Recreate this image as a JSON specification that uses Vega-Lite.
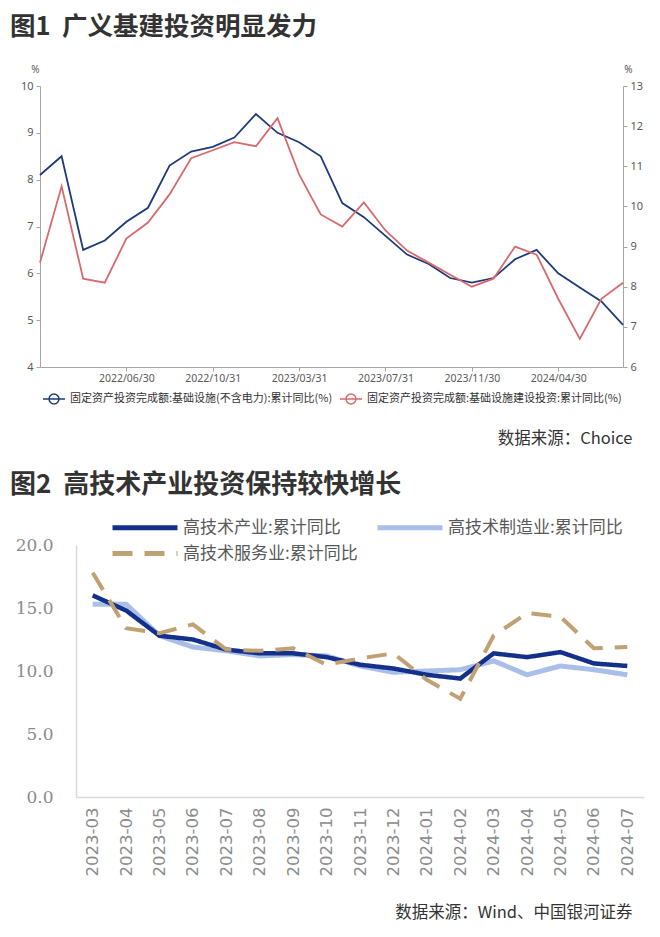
{
  "$schema": "https://vega.github.io/schema/vega-lite/v6.json",
  "background": "white",
  "padding": {"left": 10, "top": 14, "right": 5, "bottom": 5},
  "spacing": 25,
  "columns": 1,
  "align": "none",
  "config": {"view": {"stroke": null}, "font": "Noto Sans CJK SC"},
  "resolve": {"scale": {"color": "independent", "strokeDash": "independent", "x": "independent", "y": "independent"}, "legend": {"color": "independent", "strokeDash": "independent"}},
  "datasets": {
    "infra": [
      {"d": "2022/02/28", "k": "a", "s": "固定资产投资完成额:基础设施(不含电力):累计同比(%)", "v": 8.1},
      {"d": "2022/03/31", "k": "a", "s": "固定资产投资完成额:基础设施(不含电力):累计同比(%)", "v": 8.5},
      {"d": "2022/04/30", "k": "a", "s": "固定资产投资完成额:基础设施(不含电力):累计同比(%)", "v": 6.5},
      {"d": "2022/05/31", "k": "a", "s": "固定资产投资完成额:基础设施(不含电力):累计同比(%)", "v": 6.7},
      {"d": "2022/06/30", "k": "a", "s": "固定资产投资完成额:基础设施(不含电力):累计同比(%)", "v": 7.1},
      {"d": "2022/07/31", "k": "a", "s": "固定资产投资完成额:基础设施(不含电力):累计同比(%)", "v": 7.4},
      {"d": "2022/08/31", "k": "a", "s": "固定资产投资完成额:基础设施(不含电力):累计同比(%)", "v": 8.3},
      {"d": "2022/09/30", "k": "a", "s": "固定资产投资完成额:基础设施(不含电力):累计同比(%)", "v": 8.6},
      {"d": "2022/10/31", "k": "a", "s": "固定资产投资完成额:基础设施(不含电力):累计同比(%)", "v": 8.7},
      {"d": "2022/11/30", "k": "a", "s": "固定资产投资完成额:基础设施(不含电力):累计同比(%)", "v": 8.9},
      {"d": "2022/12/31", "k": "a", "s": "固定资产投资完成额:基础设施(不含电力):累计同比(%)", "v": 9.4},
      {"d": "2023/02/28", "k": "a", "s": "固定资产投资完成额:基础设施(不含电力):累计同比(%)", "v": 9.0},
      {"d": "2023/03/31", "k": "a", "s": "固定资产投资完成额:基础设施(不含电力):累计同比(%)", "v": 8.8},
      {"d": "2023/04/30", "k": "a", "s": "固定资产投资完成额:基础设施(不含电力):累计同比(%)", "v": 8.5},
      {"d": "2023/05/31", "k": "a", "s": "固定资产投资完成额:基础设施(不含电力):累计同比(%)", "v": 7.5},
      {"d": "2023/06/30", "k": "a", "s": "固定资产投资完成额:基础设施(不含电力):累计同比(%)", "v": 7.2},
      {"d": "2023/07/31", "k": "a", "s": "固定资产投资完成额:基础设施(不含电力):累计同比(%)", "v": 6.8},
      {"d": "2023/08/31", "k": "a", "s": "固定资产投资完成额:基础设施(不含电力):累计同比(%)", "v": 6.4},
      {"d": "2023/09/30", "k": "a", "s": "固定资产投资完成额:基础设施(不含电力):累计同比(%)", "v": 6.2},
      {"d": "2023/10/31", "k": "a", "s": "固定资产投资完成额:基础设施(不含电力):累计同比(%)", "v": 5.9},
      {"d": "2023/11/30", "k": "a", "s": "固定资产投资完成额:基础设施(不含电力):累计同比(%)", "v": 5.8},
      {"d": "2023/12/31", "k": "a", "s": "固定资产投资完成额:基础设施(不含电力):累计同比(%)", "v": 5.9},
      {"d": "2024/02/29", "k": "a", "s": "固定资产投资完成额:基础设施(不含电力):累计同比(%)", "v": 6.3},
      {"d": "2024/03/31", "k": "a", "s": "固定资产投资完成额:基础设施(不含电力):累计同比(%)", "v": 6.5},
      {"d": "2024/04/30", "k": "a", "s": "固定资产投资完成额:基础设施(不含电力):累计同比(%)", "v": 6.0},
      {"d": "2024/05/31", "k": "a", "s": "固定资产投资完成额:基础设施(不含电力):累计同比(%)", "v": 5.7},
      {"d": "2024/06/30", "k": "a", "s": "固定资产投资完成额:基础设施(不含电力):累计同比(%)", "v": 5.4},
      {"d": "2024/07/31", "k": "a", "s": "固定资产投资完成额:基础设施(不含电力):累计同比(%)", "v": 4.9},
      {"d": "2022/02/28", "k": "b", "s": "固定资产投资完成额:基础设施建设投资:累计同比(%)", "v": 8.6},
      {"d": "2022/03/31", "k": "b", "s": "固定资产投资完成额:基础设施建设投资:累计同比(%)", "v": 10.5},
      {"d": "2022/04/30", "k": "b", "s": "固定资产投资完成额:基础设施建设投资:累计同比(%)", "v": 8.2},
      {"d": "2022/05/31", "k": "b", "s": "固定资产投资完成额:基础设施建设投资:累计同比(%)", "v": 8.1},
      {"d": "2022/06/30", "k": "b", "s": "固定资产投资完成额:基础设施建设投资:累计同比(%)", "v": 9.2},
      {"d": "2022/07/31", "k": "b", "s": "固定资产投资完成额:基础设施建设投资:累计同比(%)", "v": 9.6},
      {"d": "2022/08/31", "k": "b", "s": "固定资产投资完成额:基础设施建设投资:累计同比(%)", "v": 10.3},
      {"d": "2022/09/30", "k": "b", "s": "固定资产投资完成额:基础设施建设投资:累计同比(%)", "v": 11.2},
      {"d": "2022/10/31", "k": "b", "s": "固定资产投资完成额:基础设施建设投资:累计同比(%)", "v": 11.4},
      {"d": "2022/11/30", "k": "b", "s": "固定资产投资完成额:基础设施建设投资:累计同比(%)", "v": 11.6},
      {"d": "2022/12/31", "k": "b", "s": "固定资产投资完成额:基础设施建设投资:累计同比(%)", "v": 11.5},
      {"d": "2023/02/28", "k": "b", "s": "固定资产投资完成额:基础设施建设投资:累计同比(%)", "v": 12.2},
      {"d": "2023/03/31", "k": "b", "s": "固定资产投资完成额:基础设施建设投资:累计同比(%)", "v": 10.8},
      {"d": "2023/04/30", "k": "b", "s": "固定资产投资完成额:基础设施建设投资:累计同比(%)", "v": 9.8},
      {"d": "2023/05/31", "k": "b", "s": "固定资产投资完成额:基础设施建设投资:累计同比(%)", "v": 9.5},
      {"d": "2023/06/30", "k": "b", "s": "固定资产投资完成额:基础设施建设投资:累计同比(%)", "v": 10.1},
      {"d": "2023/07/31", "k": "b", "s": "固定资产投资完成额:基础设施建设投资:累计同比(%)", "v": 9.4},
      {"d": "2023/08/31", "k": "b", "s": "固定资产投资完成额:基础设施建设投资:累计同比(%)", "v": 8.9},
      {"d": "2023/09/30", "k": "b", "s": "固定资产投资完成额:基础设施建设投资:累计同比(%)", "v": 8.6},
      {"d": "2023/10/31", "k": "b", "s": "固定资产投资完成额:基础设施建设投资:累计同比(%)", "v": 8.3},
      {"d": "2023/11/30", "k": "b", "s": "固定资产投资完成额:基础设施建设投资:累计同比(%)", "v": 8.0},
      {"d": "2023/12/31", "k": "b", "s": "固定资产投资完成额:基础设施建设投资:累计同比(%)", "v": 8.2},
      {"d": "2024/02/29", "k": "b", "s": "固定资产投资完成额:基础设施建设投资:累计同比(%)", "v": 9.0},
      {"d": "2024/03/31", "k": "b", "s": "固定资产投资完成额:基础设施建设投资:累计同比(%)", "v": 8.8},
      {"d": "2024/04/30", "k": "b", "s": "固定资产投资完成额:基础设施建设投资:累计同比(%)", "v": 7.7},
      {"d": "2024/05/31", "k": "b", "s": "固定资产投资完成额:基础设施建设投资:累计同比(%)", "v": 6.7},
      {"d": "2024/06/30", "k": "b", "s": "固定资产投资完成额:基础设施建设投资:累计同比(%)", "v": 7.7},
      {"d": "2024/07/31", "k": "b", "s": "固定资产投资完成额:基础设施建设投资:累计同比(%)", "v": 8.1}
    ],
    "tech": [
      {"m": "2023-03", "k": "a", "s": "高技术产业:累计同比", "v": 16.0},
      {"m": "2023-04", "k": "a", "s": "高技术产业:累计同比", "v": 14.8},
      {"m": "2023-05", "k": "a", "s": "高技术产业:累计同比", "v": 12.8},
      {"m": "2023-06", "k": "a", "s": "高技术产业:累计同比", "v": 12.5},
      {"m": "2023-07", "k": "a", "s": "高技术产业:累计同比", "v": 11.7},
      {"m": "2023-08", "k": "a", "s": "高技术产业:累计同比", "v": 11.4},
      {"m": "2023-09", "k": "a", "s": "高技术产业:累计同比", "v": 11.4},
      {"m": "2023-10", "k": "a", "s": "高技术产业:累计同比", "v": 11.1},
      {"m": "2023-11", "k": "a", "s": "高技术产业:累计同比", "v": 10.5},
      {"m": "2023-12", "k": "a", "s": "高技术产业:累计同比", "v": 10.2},
      {"m": "2024-01", "k": "a", "s": "高技术产业:累计同比", "v": 9.7},
      {"m": "2024-02", "k": "a", "s": "高技术产业:累计同比", "v": 9.4},
      {"m": "2024-03", "k": "a", "s": "高技术产业:累计同比", "v": 11.4},
      {"m": "2024-04", "k": "a", "s": "高技术产业:累计同比", "v": 11.1},
      {"m": "2024-05", "k": "a", "s": "高技术产业:累计同比", "v": 11.5},
      {"m": "2024-06", "k": "a", "s": "高技术产业:累计同比", "v": 10.6},
      {"m": "2024-07", "k": "a", "s": "高技术产业:累计同比", "v": 10.4},
      {"m": "2023-03", "k": "b", "s": "高技术制造业:累计同比", "v": 15.3},
      {"m": "2023-04", "k": "b", "s": "高技术制造业:累计同比", "v": 15.3},
      {"m": "2023-05", "k": "b", "s": "高技术制造业:累计同比", "v": 12.8},
      {"m": "2023-06", "k": "b", "s": "高技术制造业:累计同比", "v": 11.9},
      {"m": "2023-07", "k": "b", "s": "高技术制造业:累计同比", "v": 11.6},
      {"m": "2023-08", "k": "b", "s": "高技术制造业:累计同比", "v": 11.2},
      {"m": "2023-09", "k": "b", "s": "高技术制造业:累计同比", "v": 11.3},
      {"m": "2023-10", "k": "b", "s": "高技术制造业:累计同比", "v": 11.2},
      {"m": "2023-11", "k": "b", "s": "高技术制造业:累计同比", "v": 10.4},
      {"m": "2023-12", "k": "b", "s": "高技术制造业:累计同比", "v": 9.9},
      {"m": "2024-01", "k": "b", "s": "高技术制造业:累计同比", "v": 10.0},
      {"m": "2024-02", "k": "b", "s": "高技术制造业:累计同比", "v": 10.1},
      {"m": "2024-03", "k": "b", "s": "高技术制造业:累计同比", "v": 10.8},
      {"m": "2024-04", "k": "b", "s": "高技术制造业:累计同比", "v": 9.7},
      {"m": "2024-05", "k": "b", "s": "高技术制造业:累计同比", "v": 10.4},
      {"m": "2024-06", "k": "b", "s": "高技术制造业:累计同比", "v": 10.1},
      {"m": "2024-07", "k": "b", "s": "高技术制造业:累计同比", "v": 9.7},
      {"m": "2023-03", "k": "c", "s": "高技术服务业:累计同比", "v": 17.8},
      {"m": "2023-04", "k": "c", "s": "高技术服务业:累计同比", "v": 13.4},
      {"m": "2023-05", "k": "c", "s": "高技术服务业:累计同比", "v": 13.0},
      {"m": "2023-06", "k": "c", "s": "高技术服务业:累计同比", "v": 13.7},
      {"m": "2023-07", "k": "c", "s": "高技术服务业:累计同比", "v": 11.7},
      {"m": "2023-08", "k": "c", "s": "高技术服务业:累计同比", "v": 11.6},
      {"m": "2023-09", "k": "c", "s": "高技术服务业:累计同比", "v": 11.8},
      {"m": "2023-10", "k": "c", "s": "高技术服务业:累计同比", "v": 10.5},
      {"m": "2023-11", "k": "c", "s": "高技术服务业:累计同比", "v": 11.0},
      {"m": "2023-12", "k": "c", "s": "高技术服务业:累计同比", "v": 11.4},
      {"m": "2024-01", "k": "c", "s": "高技术服务业:累计同比", "v": 9.3},
      {"m": "2024-02", "k": "c", "s": "高技术服务业:累计同比", "v": 7.8},
      {"m": "2024-03", "k": "c", "s": "高技术服务业:累计同比", "v": 12.8},
      {"m": "2024-04", "k": "c", "s": "高技术服务业:累计同比", "v": 14.6},
      {"m": "2024-05", "k": "c", "s": "高技术服务业:累计同比", "v": 14.3},
      {"m": "2024-06", "k": "c", "s": "高技术服务业:累计同比", "v": 11.8},
      {"m": "2024-07", "k": "c", "s": "高技术服务业:累计同比", "v": 11.9}
    ]
  },
  "concat": [
    {
      "title": {"text": "图1\u00a0\u00a0广义基建投资明显发力", "anchor": "start", "frame": "group", "dx": -30, "offset": 24, "fontSize": 25.5, "fontWeight": "bold", "font": "Noto Sans CJK SC", "color": "#333333"},
      "width": 583,
      "height": 281,
      "data": {"name": "infra"},
      "encoding": {
        "x": {
          "field": "d", "type": "ordinal", "sort": null,
          "scale": {"type": "point", "padding": 0},
          "axis": {
            "values": ["2022/06/30", "2022/10/31", "2023/03/31", "2023/07/31", "2023/11/30", "2024/04/30"],
            "labelAngle": 0, "labelFont": "Noto Sans", "labelFontSize": 10.5, "labelColor": "#595959", "labelPadding": 2,
            "domainColor": "#a6a6a6", "tickColor": "#a6a6a6", "tickSize": 4,
            "title": "数据来源：Choice", "titleX": 592, "titleY": 71, "titleAlign": "right", "titleBaseline": "middle",
            "titleFont": "Noto Sans CJK SC", "titleFontSize": 16.5, "titleFontWeight": "normal", "titleColor": "#333333"
          }
        },
        "color": {
          "field": "s", "type": "nominal",
          "scale": {"domain": ["固定资产投资完成额:基础设施(不含电力):累计同比(%)", "固定资产投资完成额:基础设施建设投资:累计同比(%)"], "range": ["#1f3a7a", "#d66a6c"]},
          "legend": {
            "orient": "none", "legendX": 2, "legendY": 301, "direction": "horizontal", "title": null,
            "symbolType": "M-1,0H1M-0.45,0A0.45,0.45,0,1,1,0.45,0A0.45,0.45,0,1,1,-0.45,0",
            "symbolSize": 484, "symbolStrokeWidth": 1.5, "symbolFillColor": "white",
            "labelFont": "Noto Sans CJK SC", "labelFontSize": 11, "labelColor": "#333333", "labelLimit": 400,
            "labelOffset": 4, "columnPadding": 4
          }
        }
      },
      "layer": [
        {
          "transform": [{"filter": "datum.k === 'a'"}],
          "mark": {"type": "line", "strokeWidth": 1.8},
          "encoding": {
            "y": {
              "field": "v", "type": "quantitative",
              "scale": {"domain": [4, 10], "nice": false, "zero": false},
              "axis": {
                "values": [4, 5, 6, 7, 8, 9, 10], "grid": false,
                "labelFont": "Noto Sans", "labelFontSize": 11, "labelColor": "#595959", "labelPadding": 3,
                "domainColor": "#a6a6a6", "tickColor": "#a6a6a6", "tickSize": 4,
                "title": "%", "titleAngle": 0, "titleX": -5, "titleY": -12, "titleAlign": "center", "titleBaseline": "bottom",
                "titleFont": "Noto Sans", "titleFontSize": 10, "titleFontWeight": "normal", "titleColor": "#595959"
              }
            }
          }
        },
        {
          "transform": [{"filter": "datum.k === 'b'"}],
          "mark": {"type": "line", "strokeWidth": 1.8},
          "encoding": {
            "y": {
              "field": "v", "type": "quantitative",
              "scale": {"domain": [6, 13], "nice": false, "zero": false},
              "axis": {
                "orient": "right", "values": [6, 7, 8, 9, 10, 11, 12, 13], "grid": false,
                "labelFont": "Noto Sans", "labelFontSize": 11, "labelColor": "#595959", "labelPadding": 3,
                "domainColor": "#a6a6a6", "tickColor": "#a6a6a6", "tickSize": 4,
                "title": "%", "titleAngle": 0, "titleX": 5, "titleY": -12, "titleAlign": "center", "titleBaseline": "bottom",
                "titleFont": "Noto Sans", "titleFontSize": 10, "titleFontWeight": "normal", "titleColor": "#595959"
              }
            }
          }
        }
      ],
      "resolve": {"scale": {"y": "independent"}}
    },
    {
      "title": {"text": "图2\u00a0\u00a0高技术产业投资保持较快增长", "anchor": "start", "frame": "group", "dx": -30, "offset": 17, "fontSize": 26, "fontWeight": "bold", "font": "Noto Sans CJK SC", "color": "#333333"},
      "width": 604,
      "height": 252,
      "data": {"name": "tech"},
      "encoding": {
        "x": {
          "field": "m", "type": "ordinal", "sort": null,
          "scale": {"type": "point", "padding": 0.5, "range": [36, 604]},
          "axis": {
            "labelAngle": -90, "labelAlign": "right", "labelBaseline": "middle",
            "labelFont": "DejaVu Sans", "labelFontSize": 16.5, "labelColor": "#8c8c8c", "labelPadding": 10,
            "ticks": false, "domainColor": "#d9d9d9", "domainWidth": 1.5,
            "title": "数据来源：Wind、中国银河证券", "titleX": 592, "titleY": 115, "titleAlign": "right", "titleBaseline": "middle",
            "titleFont": "Noto Sans CJK SC", "titleFontSize": 16.5, "titleFontWeight": "normal", "titleColor": "#333333"
          }
        },
        "y": {
          "field": "v", "type": "quantitative",
          "scale": {"domain": [0, 20], "nice": false},
          "axis": {
            "offset": -36,
            "values": [0, 5, 10, 15, 20], "format": ".1f", "grid": false, "ticks": false,
            "domainColor": "#d9d9d9", "domainWidth": 1.5,
            "labelFont": "DejaVu Serif", "labelFontSize": 17, "labelColor": "#8c8c8c", "labelPadding": 23,
            "title": null
          }
        },
        "color": {
          "field": "s", "type": "nominal",
          "scale": {"domain": ["高技术产业:累计同比", "高技术制造业:累计同比", "高技术服务业:累计同比"], "range": ["#13308a", "#a9bee8", "#bfa173"]},
          "legend": {
            "orient": "none", "legendX": 92.5, "legendY": -30, "columns": 2, "direction": "horizontal", "title": null,
            "symbolType": "M-3.25,0H3.25", "symbolSize": 400, "symbolStrokeWidth": 5,
            "labelFont": "Noto Sans CJK SC", "labelFontSize": 17, "labelColor": "#595959", "labelLimit": 400,
            "labelOffset": 25.5, "columnPadding": 9, "rowPadding": 3
          }
        },
        "strokeDash": {
          "field": "s", "type": "nominal",
          "scale": {"domain": ["高技术产业:累计同比", "高技术制造业:累计同比", "高技术服务业:累计同比"], "range": [[1, 0], [1, 0], [20, 12]]},
          "legend": {
            "orient": "none", "legendX": 92.5, "legendY": -30, "columns": 2, "direction": "horizontal", "title": null,
            "symbolType": "M-3.25,0H3.25", "symbolSize": 400, "symbolStrokeWidth": 5,
            "labelFont": "Noto Sans CJK SC", "labelFontSize": 17, "labelColor": "#595959", "labelLimit": 400,
            "labelOffset": 25.5, "columnPadding": 9, "rowPadding": 3
          }
        }
      },
      "layer": [
        {"transform": [{"filter": "datum.k === 'b'"}], "mark": {"type": "line", "strokeWidth": 5}},
        {"transform": [{"filter": "datum.k === 'a'"}], "mark": {"type": "line", "strokeWidth": 4.5}},
        {"transform": [{"filter": "datum.k === 'c'"}], "mark": {"type": "line", "strokeWidth": 4}}
      ]
    }
  ]
}
